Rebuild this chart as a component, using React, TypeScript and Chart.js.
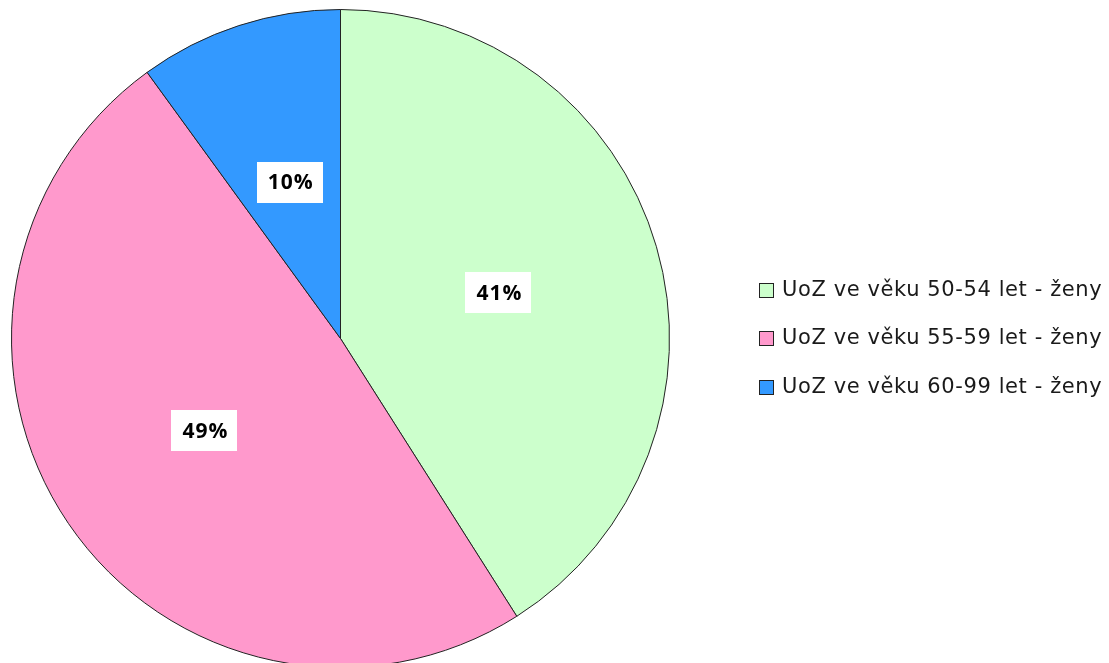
import React, { useEffect, useRef } from "react";
import { Chart, registerables } from "chart.js";

Chart.register(...registerables);

const categories = [
  "UoZ ve věku 50-54 let - ženy",
  "UoZ ve věku 55-59 let - ženy",
  "UoZ ve věku 60-99 let - ženy",
];
const values = [41, 49, 10];
const percentLabels = ["41%", "49%", "10%"];
const colors = ["#CCFFCC", "#FF99CC", "#3399FF"];

const FONT = "'Open Sans', 'Noto Sans', 'DejaVu Sans', sans-serif";
const LEGEND_FONT = "'DejaVu Sans', 'Open Sans', sans-serif";

const labelPlugin = {
  id: "sliceLabels",
  afterDatasetsDraw(chart: any) {
    const ctx = chart.ctx;
    const meta = chart.getDatasetMeta(0);
    ctx.save();
    meta.data.forEach((arc: any, i: number) => {
      const p = arc.tooltipPosition();
      const w = 66;
      const h = 41;
      ctx.fillStyle = "#ffffff";
      ctx.fillRect(Math.round(p.x - w / 2), Math.round(p.y - h / 2), w, h);
      ctx.fillStyle = "#000000";
      ctx.font = `bold 21px ${FONT}`;
      try { (ctx as any).letterSpacing = "1px"; } catch (e) {}
      ctx.textAlign = "center";
      ctx.textBaseline = "middle";
      ctx.fillText(percentLabels[i], p.x + 1, p.y + 1);
      try { (ctx as any).letterSpacing = "0px"; } catch (e) {}
    });
    ctx.restore();
  },
};

const legendPlugin = {
  id: "customLegend",
  afterDraw(chart: any) {
    const ctx = chart.ctx;
    ctx.save();
    const x0 = 759;
    const ys = [289.5, 338, 386.5];
    const box = 14;
    categories.forEach((name, i) => {
      const y = ys[i];
      ctx.fillStyle = colors[i];
      ctx.fillRect(x0 + 0.5, Math.round(y - box / 2) + 0.5, box, box);
      ctx.strokeStyle = "#222222";
      ctx.lineWidth = 1;
      ctx.strokeRect(x0 + 0.5, Math.round(y - box / 2) + 0.5, box, box);
      ctx.fillStyle = "#1a1a1a";
      ctx.font = `21px ${LEGEND_FONT}`;
      try { (ctx as any).letterSpacing = "0.6px"; } catch (e) {}
      ctx.textAlign = "left";
      ctx.textBaseline = "middle";
      ctx.fillText(name, 782, y + 1);
      try { (ctx as any).letterSpacing = "0px"; } catch (e) {}
    });
    ctx.restore();
  },
};

export default function App() {
  const canvasRef = useRef<HTMLCanvasElement | null>(null);

  useEffect(() => {
    const canvas = canvasRef.current;
    if (!canvas) return;
    const chart = new Chart(canvas, {
      type: "pie",
      data: {
        labels: categories,
        datasets: [
          {
            data: values,
            backgroundColor: colors,
            borderColor: "#222222",
            borderWidth: 1,
          },
        ],
      },
      options: {
        responsive: false,
        animation: false,
        layout: { padding: { left: 11, top: 9, right: 439, bottom: 12 } },
        plugins: {
          legend: { display: false },
          tooltip: { enabled: false },
        },
      },
      plugins: [labelPlugin, legendPlugin],
    });
    return () => chart.destroy();
  }, []);

  return (
    <div
      style={{
        position: "fixed",
        left: 0,
        top: 0,
        width: 1109,
        height: 663,
        overflow: "hidden",
        background: "#ffffff",
      }}
    >
      <canvas ref={canvasRef} width={1109} height={680} style={{ width: 1109, height: 680, display: "block" }} />
    </div>
  );
}
